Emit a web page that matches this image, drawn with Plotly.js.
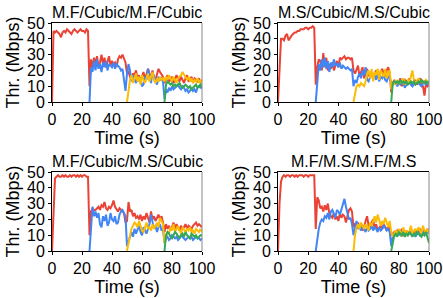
<!DOCTYPE html>
<html>
<head>
<meta charset="utf-8">
<script src="https://cdn.plot.ly/plotly-3.0.1.min.js"></script>
<style>html,body{margin:0;padding:0;background:#fff;}#chart{width:443px;height:298px;}</style>
</head>
<body>
<div id="chart"></div>
<script>
// Panel titles
const panelTitles = ["M.F/Cubic/M.F/Cubic", "M.S/Cubic/M.S/Cubic", "M.F/Cubic/M.S/Cubic", "M.F/M.S/M.F/M.S"];
// Flow start times (s)
const flowStarts = [0, 25, 50, 75];
const xTickVals = [0, 20, 40, 60, 80, 100];
const yTickVals = [0, 10, 20, 30, 40, 50];

// Panel 1: M.F/Cubic/M.F/Cubic
const p1Flow1 = [0,45,44,45,44,43,41,44,45,44,46,45,44,43,45,46,45,44,45,46,45,45,44,46,45,
  10,27,22,28,24,29,22,25,30,24,28,22,26,29,23,26,24,25,22,27,29,28,30,27,25,
  18,19,16,14,18,17,20,15,17,13,16,19,14,17,21,18,16,20,15,14,17,21,19,17,16,
  12,15,17,13,14,16,12,14,17,15,13,16,14,12,15,17,13,14,16,12,15,14,13,15,12,14];
const p1Flow2 = [0,22,19,26,20,27,21,24,19,25,22,26,20,24,23,22,25,21,24,23,22,20,21,14,7,
  18,24,20,13,17,15,12,16,13,15,10,11,16,14,21,17,12,19,15,13,11,16,14,15,13,
  2,8,6,9,7,10,8,9,10,11,9,8,10,9,7,8,6,7,9,7,8,6,9,10,9,9];
const p1Flow3 = [0,8,14,17,12,15,18,13,16,11,17,14,12,15,18,13,16,19,14,12,15,13,16,14,15,
  13,16,14,17,15,13,16,14,12,15,16,17,19,17,15,14,16,13,15,12,14,13,15,12,14,11];
const p1Flow4 = [0,11,13,12,11,12,10,11,10,11,12,10,9,10,11,10,9,10,8,9,10,11,9,10,11,9];

// Panel 2: M.S/Cubic/M.S/Cubic
const p2Flow1 = [0,22,40,40,39,42,43,39,41,42,43,44,44,45,45,46,46,46,47,47,46,47,47,48,47,
  11,22,27,26,20,31,22,28,20,24,21,25,20,23,26,22,28,27,28,29,27,28,28,27,28,
  20,18,21,23,16,20,22,15,18,21,17,16,19,15,18,20,17,16,19,21,18,17,20,22,18,
  6,12,14,11,13,12,15,10,13,14,12,11,15,13,10,12,14,11,13,15,12,10,4,12,10,11];
const p2Flow2 = [0,12,24,20,27,22,28,21,26,19,25,22,27,23,24,22,25,21,23,22,21,22,21,20,21,
  10,14,12,16,18,15,20,17,22,14,13,16,18,15,17,14,19,13,16,15,17,14,13,16,15,
  12,11,13,12,10,12,11,13,12,9,11,12,13,11,10,12,11,13,12,11,10,12,13,11,12,13];
const p2Flow3 = [0,6,10,11,10,12,11,10,13,18,20,15,21,13,19,17,21,14,20,18,16,21,15,19,20,
  8,12,13,11,14,12,13,12,15,11,13,14,12,16,20,14,12,13,15,12,14,13,12,14,13,12];
const p2Flow4 = [0,12,13,12,13,12,14,12,13,12,13,11,12,13,12,13,11,12,13,12,14,13,12,13,12,13];

// Panel 3: M.F/Cubic/M.S/Cubic
const p3Flow1 = [0,30,46,47,48,47,47,48,47,48,47,47,48,47,48,48,47,48,47,48,47,48,48,47,47,
  10,25,27,26,26,27,28,26,29,28,31,27,26,28,27,29,32,28,26,25,27,26,25,24,18,
  19,31,25,26,22,24,21,22,20,23,19,22,20,24,21,18,25,20,22,19,21,23,20,22,18,
  12,17,14,16,13,15,18,14,17,15,13,16,14,15,17,14,16,15,14,16,17,18,16,17,16,15];
const p3Flow2 = [0,15,28,22,25,21,24,17,15,22,19,23,16,18,24,20,19,22,17,18,23,25,26,24,22,
  3,6,10,12,9,14,11,13,16,12,10,15,13,11,14,17,23,18,14,16,12,15,17,13,14,
  5,8,9,7,8,10,9,8,9,7,8,10,9,8,7,8,9,8,9,7,8,9,8,8,7,8];
const p3Flow3 = [0,6,10,14,16,18,17,15,19,16,13,12,16,18,14,15,13,17,14,16,18,15,21,19,17,
  5,10,12,11,15,13,17,12,14,16,13,11,15,13,12,14,13,15,12,13,11,14,13,12,14,12];
const p3Flow4 = [0,10,12,11,9,8,10,12,11,9,8,10,11,9,12,10,9,8,11,10,9,10,8,9,10,10];

// Panel 4: M.F/M.S/M.F/M.S
const p4Flow1 = [0,30,44,47,48,47,48,48,47,48,48,47,48,47,48,48,48,47,48,48,47,48,48,48,48,
  14,34,32,27,28,25,29,26,30,24,22,21,24,20,22,19,24,21,23,22,18,23,26,27,25,
  15,17,16,18,14,16,13,15,19,22,16,15,18,20,14,17,13,15,16,14,17,15,13,16,14,
  10,11,12,10,13,12,11,14,12,10,13,11,12,14,11,12,13,11,12,14,12,11,13,12,14,11];
const p4Flow2 = [0,8,14,18,20,19,22,21,24,20,25,26,24,21,26,25,23,27,30,33,28,24,20,21,17,
  10,16,19,14,15,13,16,14,12,15,13,14,16,13,15,14,12,15,13,14,16,15,13,14,12,
  3,9,11,10,12,11,10,12,11,9,12,10,11,12,10,11,9,11,12,10,11,12,10,11,12,11];
const p4Flow3 = [0,10,15,17,14,18,16,14,17,15,13,18,16,19,22,18,23,20,16,19,17,21,18,15,19,
  12,9,11,13,10,14,12,9,15,11,13,10,12,16,11,13,14,12,15,13,11,16,13,12,14,11];
const p4Flow4 = [0,5,10,11,9,12,11,10,12,9,11,10,12,10,9,11,10,12,11,10,9,11,10,12,9,5];

const panels = [
  [p1Flow1, p1Flow2, p1Flow3, p1Flow4],
  [p2Flow1, p2Flow2, p2Flow3, p2Flow4],
  [p3Flow1, p3Flow2, p3Flow3, p3Flow4],
  [p4Flow1, p4Flow2, p4Flow3, p4Flow4]
];
const colors = ["#EA4335", "#4285F4", "#FBBC05", "#34A853"];

const W = 443, H = 298;
const xDomains = [[52/W, 202/W], [278/W, 429/W]];
const yDomains = [[1-102/H, 1-23/H], [1-251/H, 1-172/H]];

const data = [];
const layout = {
  width: W, height: H,
  margin: {l: 0, r: 0, t: 0, b: 0},
  paper_bgcolor: "#fff", plot_bgcolor: "#fff",
  showlegend: false,
  font: {family: "Liberation Sans, Arial, sans-serif", color: "#000"},
  annotations: [], shapes: []
};

panels.forEach((series, p) => {
  const k = p + 1;
  const xa = k === 1 ? "x" : "x" + k;
  const ya = k === 1 ? "y" : "y" + k;
  const col = p % 2, row = Math.floor(p / 2);
  series.forEach((vals, s) => {
    data.push({
      type: "scatter", mode: "lines",
      x: vals.map((v, i) => flowStarts[s] + i),
      y: vals,
      xaxis: xa, yaxis: ya,
      line: {color: colors[s], width: 2},
      hoverinfo: "skip"
    });
  });
  layout["xaxis" + (k === 1 ? "" : k)] = {
    domain: xDomains[col], anchor: ya, range: [0, 100],
    tickvals: xTickVals, ticks: "outside", ticklen: 3, tickcolor: "#000",
    showline: true, linecolor: "#000", linewidth: 1, mirror: true,
    showgrid: false, zeroline: false,
    tickfont: {size: 16, color: "#000"},
    title: {text: "Time (s)", font: {size: 18, color: "#000"}, standoff: 3}
  };
  layout["yaxis" + (k === 1 ? "" : k)] = {
    domain: yDomains[row], anchor: xa, range: [0, 50],
    tickvals: yTickVals, ticks: "outside", ticklen: 3, tickcolor: "#000",
    showline: true, linecolor: "#000", linewidth: 1, mirror: false,
    showgrid: false, zeroline: false,
    tickfont: {size: 16, color: "#000"},
    title: {text: "Thr. (Mbps)", font: {size: 18, color: "#000"}, standoff: 2}
  };
  layout.shapes.push({
    type: "line", xref: xa + " domain", yref: ya + " domain",
    x0: 1, x1: 1, y0: 0, y1: 1,
    line: {color: "#888", width: 1}
  });
  layout.annotations.push({
    text: panelTitles[p], showarrow: false,
    xref: "paper", yref: "paper",
    x: (xDomains[col][0] + xDomains[col][1]) / 2, xanchor: "center",
    y: yDomains[row][1], yanchor: "bottom", yshift: 0,
    font: {size: 16, color: "#000"}
  });
});

Plotly.newPlot("chart", data, layout, {staticPlot: true, displayModeBar: false});
</script>
</body>
</html>
